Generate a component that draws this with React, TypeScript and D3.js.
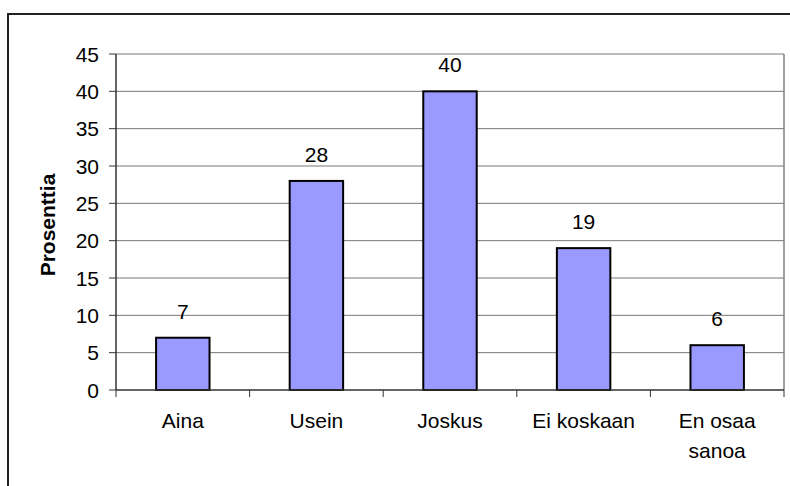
import React from "react";
import * as d3 from "d3";

const categories = ["Aina", "Usein", "Joskus", "Ei koskaan", "En osaa sanoa"];
const categoryLines = [["Aina"], ["Usein"], ["Joskus"], ["Ei koskaan"], ["En osaa", "sanoa"]];
const values = [7, 28, 40, 19, 6];
const yTicks = [0, 5, 10, 15, 20, 25, 30, 35, 40, 45];
const yLabel = "Prosenttia";

const W = 790;
const H = 486;
const FONT = "'Liberation Sans', Arial, sans-serif";

export default function App() {
  const left = 116, right = 784, top = 54, bottom = 390;
  const y = d3.scaleLinear().domain([0, 45]).range([bottom, top]);
  const x = d3.scaleBand<string>().domain(categories).range([left, right]).paddingInner(0.6).paddingOuter(0.3);
  const step = x.step();
  const bounds = d3.range(categories.length + 1).map((i) => left + i * step);

  return (
    <svg width={W} height={H} style={{ position: "absolute", left: 0, top: 0 }} fontFamily={FONT}>
      <rect x={0} y={0} width={W} height={H} fill="#fff" />
      <rect x={8} y={14} width={W + 10} height={H + 10} fill="none" stroke="#222" strokeWidth={2} />
      {yTicks.filter((t) => t > 0).map((t) => (
        <line key={t} x1={left} x2={right} y1={y(t)} y2={y(t)} stroke="#777" strokeWidth={1} />
      ))}
      <line x1={right} x2={right} y1={top} y2={bottom} stroke="#808080" strokeWidth={1.5} />
      {categories.map((c, i) => (
        <rect key={c} x={x(c)} y={y(values[i])} width={x.bandwidth()} height={bottom - y(values[i])}
          fill="#9999FF" stroke="#000" strokeWidth={2} />
      ))}
      {categories.map((c, i) => (
        <text key={c} x={(x(c) as number) + x.bandwidth() / 2} y={y(values[i]) - 19} textAnchor="middle"
          fontSize={21} fill="#000">{values[i]}</text>
      ))}
      <line x1={left} x2={left} y1={top} y2={bottom} stroke="#333" strokeWidth={1.5} />
      {yTicks.map((t) => (
        <g key={t}>
          <line x1={left - 7} x2={left} y1={y(t)} y2={y(t)} stroke="#333" strokeWidth={1} />
          <text x={left - 17} y={y(t) + 7.5} textAnchor="end" fontSize={21} fill="#000">{t}</text>
        </g>
      ))}
      <line x1={left} x2={right} y1={bottom} y2={bottom} stroke="#333" strokeWidth={1.5} />
      {bounds.map((b, i) => (
        <line key={i} x1={b} x2={b} y1={bottom} y2={bottom + 7} stroke="#333" strokeWidth={1} />
      ))}
      {categories.map((c, i) => (
        <text key={c} x={(x(c) as number) + x.bandwidth() / 2} y={428} textAnchor="middle" fontSize={21} fill="#000">
          {categoryLines[i].map((l, j) => (
            <tspan key={j} x={(x(c) as number) + x.bandwidth() / 2} dy={j === 0 ? 0 : 30}>{l}</tspan>
          ))}
        </text>
      ))}
      <text transform={`translate(55,${(top + bottom) / 2 + 3}) rotate(-90)`} textAnchor="middle" fontSize={21}
        fontWeight="bold" fill="#000">{yLabel}</text>
    </svg>
  );
}
